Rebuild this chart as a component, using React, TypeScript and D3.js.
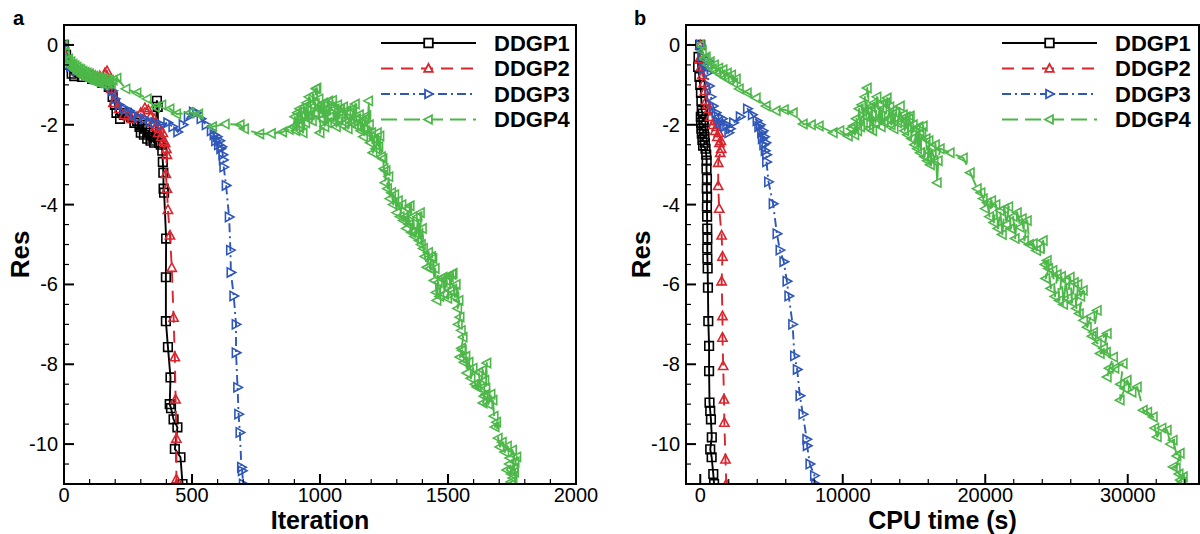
import React from "react";
import * as d3 from "d3";

type Pt = [number, number];

// ---- series styling ----
const seriesNames = ["DDGP1", "DDGP2", "DDGP3", "DDGP4"];
const seriesColors = ["#000000", "#d8262f", "#2f57b9", "#4db849"];
const seriesDash = ["none", "12 8", "9 4 2 4", "16 7"];
const seriesMarkers = ["square", "triUp", "triRight", "triLeft"];

// ---- axis ticks ----
const resTicks = [0, -2, -4, -6, -8, -10];
const iterTicks = [0, 500, 1000, 1500, 2000];
const cpuTicks = [0, 10000, 20000, 30000];

// ---- residual history vs iteration ----
const iterDDGP1: Pt[] = [
  [0, 0], [8, -0.25], [18, -0.5], [30, -0.72], [40, -0.78], [70, -0.8], [110, -0.85], [150, -0.95],
  [175, -1.05], [190, -1.3], [199, -1.5], [205, -1.7], [219, -1.85], [235, -1.75], [246, -1.7],
  [262, -1.8], [275, -1.95], [285, -1.9], [295, -2.05], [300, -2.2], [305, -2.0], [312, -2.25],
  [318, -2.1], [325, -2.35], [330, -2.2], [338, -2.4], [345, -2.3], [352, -2.45], [358, -2.3],
  [363, -1.4], [366, -1.55], [368, -2.3], [372, -2.45], [378, -2.5], [384, -2.65], [386, -2.93],
  [388, -3.2], [389, -3.6], [391, -3.7], [399, -4.85], [398, -5.82], [398, -6.92], [406, -7.57],
  [416, -8.33], [413, -9.0], [418, -9.1], [428, -9.38], [443, -9.58], [433, -10.12], [455, -10.33],
  [463, -11],
];
const iterDDGP2: Pt[] = [
  [0, 0], [10, -0.3], [25, -0.5], [50, -0.65], [80, -0.72], [110, -0.75], [140, -0.78], [160, -0.7],
  [168, -0.65], [175, -0.85], [185, -1.1], [193, -1.45], [200, -1.35], [215, -1.6], [235, -1.75],
  [250, -1.78], [265, -1.85], [285, -1.8], [300, -1.7], [316, -1.58], [329, -1.63], [338, -1.8],
  [345, -1.95], [352, -1.85], [358, -2.05], [364, -2.0], [368, -2.2], [374, -2.1], [380, -2.3],
  [386, -2.2], [390, -2.4], [395, -2.45], [400, -2.6], [402, -2.75], [398, -3.23], [402, -3.6],
  [406, -4.13], [414, -4.77], [421, -5.58], [428, -6.83], [433, -7.82], [436, -8.88], [439, -9.86],
  [439, -10.88], [440, -11],
];
const iterDDGP3: Pt[] = [
  [0, 0], [8, -0.3], [25, -0.55], [50, -0.65], [85, -0.75], [120, -0.85], [150, -0.9], [175, -1.0],
  [190, -1.15], [200, -1.35], [215, -1.5], [235, -1.6], [255, -1.65], [275, -1.75], [290, -1.82],
  [315, -1.85], [335, -1.92], [355, -1.95], [380, -2.0], [405, -1.95], [425, -2.05], [444, -2.18],
  [465, -2.0], [485, -1.8], [505, -1.68], [518, -1.7], [535, -1.85], [555, -2.0], [575, -2.15],
  [586, -2.25], [592, -2.4], [598, -2.3], [603, -2.5], [608, -2.4], [612, -2.6], [616, -2.55],
  [620, -2.75], [622, -2.88], [624, -3.06], [633, -3.52], [645, -4.31], [650, -5.14], [652, -5.7],
  [663, -6.29], [672, -7.0], [672, -7.71], [678, -8.58], [682, -9.25], [687, -9.71], [693, -10.58],
  [696, -10.67], [700, -11],
];
const iterDDGP4: Pt[] = [
  [0, 0], [5, -0.2], [12, -0.4], [18, -0.35], [22, -0.5], [27, -0.42], [30, -0.55], [35, -0.48],
  [38, -0.6], [43, -0.52], [46, -0.65], [51, -0.56], [55, -0.7], [59, -0.6], [62, -0.72],
  [66, -0.62], [70, -0.78], [74, -0.66], [78, -0.8], [82, -0.68], [86, -0.82], [90, -0.7],
  [95, -0.86], [99, -0.72], [104, -0.88], [108, -0.76], [112, -0.9], [116, -0.78], [120, -0.92],
  [125, -0.8], [130, -0.95], [135, -0.82], [140, -0.96], [145, -0.84], [150, -0.97], [155, -0.86],
  [160, -0.98], [166, -0.86], [172, -0.96], [178, -0.88], [185, -0.97], [192, -0.88], [207, -0.83],
  [242, -1.1], [285, -1.2], [325, -1.35], [358, -1.56], [382, -1.5], [414, -1.6], [440, -1.73],
  [492, -1.7], [526, -1.73], [580, -2.05], [630, -1.98], [688, -2.0], [705, -2.1], [765, -2.23],
  [810, -2.22], [854, -2.18], [880, -2.12], [896, -2.05],
  [902, -1.8], [906, -2.15], [912, -1.7], [916, -2.05], [921, -1.6], [925, -2.0], [930, -1.75],
  [934, -2.2], [939, -1.55], [944, -1.95], [948, -1.45], [953, -1.85], [957, -1.3], [962, -1.75],
  [966, -1.5], [970, -1.9], [975, -1.25], [979, -1.7], [984, -1.1], [988, -1.08], [992, -1.6],
  [996, -1.35], [1000, -2.2], [1004, -1.5], [1009, -1.85], [1014, -1.45], [1019, -2.05],
  [1024, -1.6], [1029, -1.95], [1034, -1.4], [1039, -1.8], [1044, -1.55], [1049, -1.39],
  [1054, -1.9], [1059, -1.6], [1064, -2.05], [1069, -1.5], [1074, -1.85], [1080, -1.6],
  [1086, -2.0], [1092, -1.55], [1098, -1.95], [1104, -1.65], [1110, -2.1], [1116, -1.7],
  [1122, -1.95], [1128, -1.6], [1134, -2.0], [1138, -1.48], [1143, -1.85], [1148, -2.05],
  [1154, -1.75], [1160, -2.15], [1165, -1.9], [1170, -2.3], [1176, -1.85], [1183, -1.77],
  [1187, -2.2], [1190, -1.4], [1193, -2.0], [1197, -2.45], [1202, -2.2], [1207, -2.7],
  [1212, -2.35], [1218, -2.6], [1224, -2.2], [1230, -2.55], [1234, -2.28], [1240, -2.8],
  [1246, -2.85], [1250, -3.1], [1254, -3.45], [1258, -3.15], [1264, -3.6], [1269, -3.3],
  [1273, -3.85], [1280, -3.7], [1286, -4.0], [1292, -3.75], [1300, -4.2], [1306, -3.9],
  [1313, -4.3], [1320, -4.0], [1326, -4.4], [1332, -4.31], [1338, -4.6], [1343, -4.1],
  [1348, -4.5], [1352, -4.03], [1358, -4.7], [1364, -4.3], [1370, -4.8], [1377, -4.73],
  [1383, -4.3], [1388, -4.9], [1392, -4.2], [1396, -5.0], [1400, -4.6], [1404, -5.1], [1410, -5.3],
  [1418, -5.57], [1424, -5.2], [1430, -5.6], [1436, -5.3], [1441, -5.35], [1446, -5.9],
  [1450, -5.6], [1454, -6.2], [1457, -6.4], [1462, -5.95], [1468, -6.3], [1474, -5.85],
  [1481, -5.82], [1487, -6.25], [1493, -5.9], [1499, -6.35], [1505, -5.8], [1511, -6.15],
  [1516, -5.75], [1520, -5.72], [1524, -6.2], [1527, -6.32], [1532, -6.0], [1538, -6.6],
  [1543, -6.4], [1547, -6.82], [1540, -7.0], [1552, -7.15], [1559, -7.32], [1553, -7.6],
  [1547, -7.82], [1556, -7.65], [1563, -7.95], [1570, -7.8], [1574, -8.22], [1582, -7.95],
  [1590, -8.35], [1598, -8.1], [1606, -8.5], [1613, -8.57], [1620, -8.2], [1628, -8.6],
  [1636, -8.15], [1644, -8.4], [1652, -7.97], [1648, -8.6], [1641, -8.8], [1637, -8.97],
  [1648, -8.75], [1658, -9.0], [1668, -8.75], [1676, -8.9], [1680, -9.3], [1684, -9.57],
  [1690, -9.45], [1696, -9.85], [1703, -10.07], [1712, -9.95], [1722, -10.2], [1732, -10.05],
  [1742, -10.35], [1752, -10.15], [1762, -10.45], [1769, -10.32], [1758, -10.6], [1740, -10.5],
  [1730, -10.65], [1748, -10.75], [1760, -10.7], [1754, -10.85], [1746, -10.95], [1750, -11.0],
];

// ---- residual history vs CPU time (s) ----
const cpuDDGP1: Pt[] = [
  [0, 0], [-120, -0.3], [-150, -0.55], [-60, -0.8], [0, -1.0], [50, -1.2], [80, -1.4], [100, -1.65],
  [180, -1.72], [40, -1.8], [220, -1.88], [60, -1.95], [240, -2.02], [80, -2.1], [260, -2.15],
  [110, -2.22], [300, -2.3], [150, -2.38], [330, -2.45], [200, -2.52], [370, -2.6], [420, -2.75],
  [450, -2.9], [440, -3.1], [470, -3.35], [460, -3.6], [480, -3.8], [470, -4.05], [480, -4.3],
  [490, -4.6], [500, -4.85], [490, -5.1], [500, -5.35], [520, -5.6], [540, -6.08], [565, -6.92],
  [620, -7.54], [620, -8.17], [650, -8.96], [700, -9.17], [750, -9.38], [810, -9.83], [700, -10.13],
  [800, -10.33], [915, -10.75], [970, -11],
];
const cpuDDGP2: Pt[] = [
  [0, 0], [-60, -0.35], [50, -0.55], [150, -0.75], [250, -0.95], [330, -1.15], [420, -1.4],
  [500, -1.5], [630, -1.6], [700, -1.8], [900, -2.0], [1000, -1.9], [1050, -2.15], [1150, -2.05],
  [1200, -2.3], [1300, -2.2], [1350, -2.45], [1450, -2.4], [1470, -2.6], [1400, -2.7],
  [1260, -2.95], [1260, -3.53], [1330, -4.1], [1500, -4.77], [1560, -5.3], [1500, -5.92],
  [1560, -6.79], [1560, -7.33], [1610, -8.04], [1670, -8.88], [1690, -9.46], [1770, -10.38],
  [1830, -11],
];
const cpuDDGP3: Pt[] = [
  [0, 0], [100, -0.3], [200, -0.6], [560, -0.4], [500, -0.7], [630, -1.03], [750, -1.3],
  [900, -1.53], [1100, -1.7], [1260, -1.8], [1400, -1.95], [1550, -1.85], [1700, -2.05],
  [1850, -2.0], [2000, -2.2], [2100, -2.1], [2330, -1.95], [2800, -1.8], [3310, -1.6],
  [3650, -1.75], [3980, -1.9], [4100, -2.05], [4200, -2.0], [4300, -2.2], [4400, -2.15],
  [4350, -2.35], [4500, -2.3], [4450, -2.5], [4600, -2.45], [4550, -2.65], [4650, -2.75],
  [4650, -2.93], [4790, -3.43], [5110, -3.98], [5380, -4.73], [5590, -5.14], [5860, -5.43],
  [6080, -5.92], [6210, -6.29], [6480, -7.0], [6610, -7.79], [6800, -8.13], [6990, -8.79],
  [7200, -9.25], [7470, -9.88], [7500, -10.04], [7690, -10.5], [8010, -10.79], [8090, -11],
];
const cpuDDGP4: Pt[] = [
  [0, 0], [150, -0.15], [300, -0.35], [420, -0.3], [550, -0.5], [700, -0.42], [850, -0.6],
  [1000, -0.5], [1150, -0.68], [1300, -0.58], [1450, -0.75], [1600, -0.62], [1750, -0.82],
  [1900, -0.7], [2050, -0.88], [2200, -0.75], [2350, -0.95], [2530, -0.85], [2740, -1.1],
  [3300, -1.2], [3930, -1.33], [4630, -1.53], [5330, -1.65], [5900, -1.62], [6530, -1.7],
  [7230, -1.98], [7800, -2.0], [8350, -2.03], [9330, -2.2], [9800, -2.15], [10390, -2.28],
  [10600, -2.1], [10740, -2.03],
  [10850, -2.25], [10950, -1.85], [11050, -2.15], [11150, -1.6], [11250, -2.05], [11350, -1.5],
  [11450, -1.95], [11550, -1.3], [11650, -1.8], [11720, -1.08], [11800, -1.65], [11900, -2.1],
  [12000, -1.55], [12100, -2.15], [12200, -1.45], [12300, -1.95], [12400, -1.3], [12500, -1.85],
  [12600, -1.5], [12700, -2.05], [12800, -1.6], [12900, -1.95], [13000, -1.45], [13120, -1.33],
  [13200, -1.85], [13300, -1.55], [13400, -2.0], [13500, -1.65], [13600, -2.1], [13700, -1.7],
  [13850, -1.95], [14040, -1.53], [14150, -1.95], [14250, -1.75], [14350, -2.15], [14450, -1.8],
  [14550, -2.25], [14650, -1.85], [14740, -1.78], [14850, -2.35], [14950, -2.0], [15050, -2.5],
  [15150, -2.1], [15250, -2.6], [15350, -2.05], [15450, -2.7], [15550, -2.2], [15650, -2.03],
  [15750, -2.8], [15850, -2.35], [15950, -2.9], [16050, -2.4], [16150, -3.0], [16250, -2.55],
  [16400, -2.9], [16500, -2.5], [16630, -3.45], [16700, -2.9], [16840, -2.6], [17540, -2.7],
  [18460, -2.83], [18950, -3.2], [19440, -3.6], [19700, -3.7],
  [19860, -3.85], [20000, -4.1], [20140, -3.95], [20300, -4.3], [20450, -3.9], [20600, -4.45],
  [20750, -4.0], [20900, -4.6], [21050, -4.15], [21200, -4.75], [21350, -4.1], [21500, -4.5],
  [21650, -4.05], [21800, -4.6], [21960, -4.3], [22100, -4.85], [22250, -4.2], [22460, -4.57],
  [22600, -4.35], [22750, -4.9], [22950, -4.4], [23100, -5.0], [23370, -4.98], [23600, -5.15],
  [23850, -5.1], [24070, -4.9], [24200, -5.5], [24350, -5.4], [24250, -5.85], [24450, -5.6],
  [24600, -6.1], [24750, -5.65], [24900, -6.3], [25050, -5.75], [25200, -6.4], [25350, -5.8],
  [25500, -6.5], [25650, -5.9], [25800, -6.35], [25960, -5.82], [26100, -6.45], [26250, -5.95],
  [26400, -6.6], [26500, -6.0], [26700, -6.3], [26880, -6.15], [26600, -6.73], [26900, -6.9],
  [27160, -7.07], [27400, -6.8], [27860, -6.65], [27600, -7.2], [27500, -7.3], [27860, -7.48],
  [28200, -7.35], [28560, -7.23], [28300, -7.6], [28070, -7.73], [28500, -7.7], [29000, -7.82],
  [28700, -8.1], [28560, -8.32], [29100, -8.1], [29680, -7.98], [29500, -8.5], [29470, -8.9],
  [29800, -8.6], [29960, -8.4], [30300, -8.7], [30670, -8.57], [31090, -9.15],
  [31400, -9.2], [31790, -9.32], [31900, -9.6], [32070, -9.82], [32400, -9.6], [32770, -9.65],
  [33000, -10.0], [33190, -9.9], [33450, -10.3], [33680, -10.23], [33400, -10.6], [33190, -10.57],
  [33600, -10.75], [33900, -10.82], [33700, -10.9], [33820, -10.95],
];

// ---- layout ----
const FONT = "'Liberation Sans', Arial, Helvetica, sans-serif";
const FRAME_TOP = 25;
const FRAME_BOTTOM = 484;
const RES_DOMAIN: [number, number] = [-11, 0.5];

function markerPath(kind: string, s: number): string {
  switch (kind) {
    case "square":
      return `M${-s},${-s}H${s}V${s}H${-s}Z`;
    case "triUp":
      return `M0,${-s * 1.05}L${s},${s * 0.8}L${-s},${s * 0.8}Z`;
    case "triRight":
      return `M${s * 1.05},0L${-s * 0.8},${-s}L${-s * 0.8},${s}Z`;
    case "triLeft":
      return `M${-s * 1.05},0L${s * 0.8},${-s}L${s * 0.8},${s}Z`;
    default:
      return "";
  }
}

interface PanelProps {
  id: string;
  letter: string;
  letterX: number;
  left: number;
  right: number;
  xDomain: [number, number];
  xTicks: number[];
  xMinorStep: number;
  xMajorStep: number;
  xLabel: string;
  resLabelX: number;
  legendLeft: number;
  data: Pt[][];
}

function Panel(p: PanelProps) {
  const x = d3.scaleLinear().domain(p.xDomain).range([p.left, p.right]);
  const y = d3.scaleLinear().domain(RES_DOMAIN).range([FRAME_BOTTOM, FRAME_TOP]);
  const line = d3
    .line<Pt>()
    .x((d) => x(d[0]))
    .y((d) => y(d[1]));

  const yMinor = d3
    .range(-11, 0.5, 0.5)
    .filter((v) => v > -11 && Math.abs(v % 2) > 1e-9);
  const xMinor = d3
    .range(0, p.xDomain[1], p.xMinorStep)
    .filter((v) => v > p.xDomain[0] && Math.abs(v % p.xMajorStep) > 1e-9);

  const clipId = `clip-${p.id}`;
  const legendLen = 95;
  const rowGap = 25.5;
  const firstRow = 43;
  const markSize = (i: number) => (i === 0 ? 4.3 : 4.6);

  return (
    <g>
      <defs>
        <clipPath id={clipId}>
          <rect x={p.left} y={FRAME_TOP} width={p.right - p.left} height={FRAME_BOTTOM - FRAME_TOP} />
        </clipPath>
      </defs>

      {/* data */}
      <g clipPath={`url(#${clipId})`}>
        {p.data.map((pts, i) => (
          <g key={i}>
            <path
              d={line(pts) ?? ""}
              fill="none"
              stroke={seriesColors[i]}
              strokeWidth={1.9}
              strokeDasharray={seriesDash[i] === "none" ? undefined : seriesDash[i]}
              strokeLinejoin="round"
            />
            {pts.map((d, j) => (
              <path
                key={j}
                transform={`translate(${x(d[0])},${y(d[1])})`}
                d={markerPath(seriesMarkers[i], markSize(i))}
                fill="none"
                stroke={seriesColors[i]}
                strokeWidth={1.6}
              />
            ))}
          </g>
        ))}
      </g>

      {/* frame */}
      <rect
        x={p.left}
        y={FRAME_TOP}
        width={p.right - p.left}
        height={FRAME_BOTTOM - FRAME_TOP}
        fill="none"
        stroke="#000"
        strokeWidth={2}
      />

      {/* y ticks */}
      {resTicks.map((v) => (
        <g key={`ym${v}`}>
          <line x1={p.left} x2={p.left + 10} y1={y(v)} y2={y(v)} stroke="#000" strokeWidth={2} />
          <text
            x={p.left - 6}
            y={y(v)}
            dy="0.35em"
            textAnchor="end"
            fontSize={20}
            fontFamily={FONT}
          >
            {String(v)}
          </text>
        </g>
      ))}
      {yMinor.map((v) => (
        <line key={`yn${v}`} x1={p.left} x2={p.left + 5} y1={y(v)} y2={y(v)} stroke="#000" strokeWidth={1.2} />
      ))}

      {/* x ticks */}
      {p.xTicks.map((v) => (
        <g key={`xm${v}`}>
          <line x1={x(v)} x2={x(v)} y1={FRAME_BOTTOM} y2={FRAME_BOTTOM - 10} stroke="#000" strokeWidth={2} />
          <text x={x(v)} y={502} textAnchor="middle" fontSize={20} fontFamily={FONT}>
            {String(v)}
          </text>
        </g>
      ))}
      {xMinor.map((v) => (
        <line key={`xn${v}`} x1={x(v)} x2={x(v)} y1={FRAME_BOTTOM} y2={FRAME_BOTTOM - 5} stroke="#000" strokeWidth={1.2} />
      ))}

      {/* axis titles */}
      <text
        x={(p.left + p.right) / 2}
        y={529}
        textAnchor="middle"
        fontSize={25}
        fontWeight="bold"
        fontFamily={FONT}
      >
        {p.xLabel}
      </text>
      <text
        transform={`translate(${p.resLabelX},${(FRAME_TOP + FRAME_BOTTOM) / 2}) rotate(-90)`}
        textAnchor="middle"
        fontSize={26}
        fontWeight="bold"
        fontFamily={FONT}
      >
        Res
      </text>

      {/* panel letter */}
      <text x={p.letterX} y={25} fontSize={20} fontWeight="bold" fontFamily={FONT}>
        {p.letter}
      </text>

      {/* legend */}
      {seriesNames.map((name, i) => {
        const ry = firstRow + i * rowGap;
        const mid = p.legendLeft + legendLen / 2;
        return (
          <g key={name}>
            <line
              x1={p.legendLeft}
              x2={p.legendLeft + legendLen}
              y1={ry}
              y2={ry}
              stroke={seriesColors[i]}
              strokeWidth={2}
              strokeDasharray={seriesDash[i] === "none" ? undefined : seriesDash[i]}
            />
            <path
              transform={`translate(${mid},${ry})`}
              d={markerPath(seriesMarkers[i], 4.3)}
              fill="#fff"
              stroke={seriesColors[i]}
              strokeWidth={1.8}
            />
            <text
              x={p.legendLeft + legendLen + 18}
              y={ry}
              dy="0.36em"
              fontSize={22}
              fontWeight="bold"
              fontFamily={FONT}
            >
              {name}
            </text>
          </g>
        );
      })}
    </g>
  );
}

export default function App() {
  return (
    <svg
      width={1200}
      height={534}
      viewBox="0 0 1200 534"
      style={{ position: "absolute", left: 0, top: 0, background: "#fff" }}
    >
      <rect x={0} y={0} width={1200} height={534} fill="#fff" />
      <Panel
        id="iter"
        letter="a"
        letterX={13}
        left={64}
        right={576}
        xDomain={[0, 2000]}
        xTicks={iterTicks}
        xMinorStep={100}
        xMajorStep={500}
        xLabel="Iteration"
        resLabelX={29}
        legendLeft={381}
        data={[iterDDGP1, iterDDGP2, iterDDGP3, iterDDGP4]}
      />
      <Panel
        id="cpu"
        letter="b"
        letterX={634}
        left={686}
        right={1199}
        xDomain={[-1000, 35000]}
        xTicks={cpuTicks}
        xMinorStep={2000}
        xMajorStep={10000}
        xLabel="CPU time (s)"
        resLabelX={650}
        legendLeft={1002}
        data={[cpuDDGP1, cpuDDGP2, cpuDDGP3, cpuDDGP4]}
      />
    </svg>
  );
}
